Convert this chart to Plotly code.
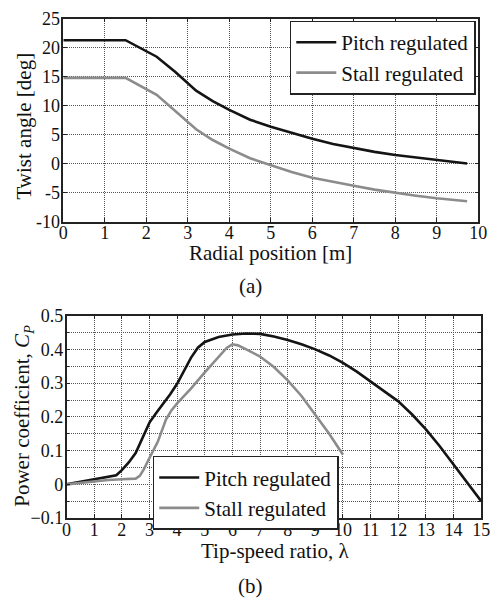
import plotly.graph_objects as go

# ---- data: (a) twist angle ----
radial_pos = [0, 0.5, 1.0, 1.5, 2.25, 2.7, 3.2, 3.6, 4.0, 4.5, 5.0, 5.5, 6.0, 6.5, 7.0, 7.5, 8.0, 8.5, 9.0, 9.73]
twist_pitch = [21.3, 21.3, 21.3, 21.3, 18.45, 15.8, 12.6, 10.8, 9.3, 7.6, 6.4, 5.3, 4.3, 3.4, 2.7, 2.05, 1.5, 1.05, 0.65, 0.05]
twist_stall = [14.8, 14.8, 14.8, 14.8, 11.9, 9.0, 5.95, 4.1, 2.6, 0.95, -0.2, -1.4, -2.4, -3.15, -3.8, -4.45, -5.0, -5.5, -5.95, -6.45]

# ---- data: (b) power coefficient ----
tsr_pitch = [0, 0.5, 1, 1.5, 1.8, 2.0, 2.25, 2.5, 2.75, 3.0, 3.25, 3.5, 3.75, 4.0, 4.25, 4.5, 4.75, 5.0,
             5.5, 6.0, 6.5, 7.0, 7.5, 8, 8.5, 9, 9.5, 10, 10.5, 11, 11.5, 12, 12.5, 13, 13.5, 14, 14.5, 15]
cp_pitch = [0, 0.008, 0.016, 0.022, 0.027, 0.042, 0.065, 0.093, 0.14, 0.183, 0.212, 0.238, 0.267, 0.298,
            0.335, 0.375, 0.405, 0.422, 0.437, 0.444, 0.447, 0.446, 0.438, 0.428, 0.415, 0.40, 0.382, 0.36,
            0.334, 0.305, 0.277, 0.246, 0.207, 0.163, 0.113, 0.059, 0.003, -0.05]
tsr_stall = [0, 0.5, 1, 1.5, 2, 2.5, 2.65, 2.8, 3.0, 3.3, 3.6, 3.8, 4.0, 4.5, 5.0, 5.5, 5.8, 6.0, 6.2, 6.5,
             7.0, 7.5, 8.0, 8.5, 9.0, 9.5, 10.0]
cp_stall = [0, 0.005, 0.01, 0.013, 0.015, 0.017, 0.025, 0.045, 0.078, 0.126, 0.193, 0.22, 0.24, 0.284, 0.332,
            0.379, 0.405, 0.415, 0.412, 0.4, 0.379, 0.348, 0.308, 0.262, 0.207, 0.15, 0.088]

# ---- tick labels ----
top_x_ticks = list(range(0, 11))
top_y_vals = [-10, -5, 0, 5, 10, 15, 20, 25]
top_y_text = ["-10", "-5", "0", "5", "10", "15", "20", "25"]
bot_x_ticks = list(range(0, 16))
bot_y_vals = [-0.1, 0, 0.1, 0.2, 0.3, 0.4, 0.5]
bot_y_text = ["\u22120.1", "0", "0.1", "0.2", "0.3", "0.4", "0.5"]

names = ["Pitch regulated", "Stall regulated"]
BLACK = "#141414"
GRAY = "#8c8c8c"
FONT = "Liberation Serif, Times New Roman, DejaVu Serif, serif"
W, H = 498, 611


def px(x):
    return x / W


def py(y):
    return 1 - y / H


fig = go.Figure()
fig.add_trace(go.Scatter(x=radial_pos, y=twist_pitch, mode="lines", name=names[0],
                         line=dict(color=BLACK, width=2.6), xaxis="x", yaxis="y", legend="legend"))
fig.add_trace(go.Scatter(x=radial_pos, y=twist_stall, mode="lines", name=names[1],
                         line=dict(color=GRAY, width=2.6), xaxis="x", yaxis="y", legend="legend"))
fig.add_trace(go.Scatter(x=tsr_pitch, y=cp_pitch, mode="lines", name=names[0],
                         line=dict(color=BLACK, width=2.6), xaxis="x2", yaxis="y2", legend="legend2"))
fig.add_trace(go.Scatter(x=tsr_stall, y=cp_stall, mode="lines", name=names[1],
                         line=dict(color=GRAY, width=2.6), xaxis="x2", yaxis="y2", legend="legend2"))

GRID = "#555555"
TXT = "#111111"
axis_common = dict(showline=True, linecolor="#222", linewidth=1.5, mirror="ticks",
                   ticks="inside", ticklen=4, tickcolor="#222",
                   showgrid=True, gridcolor=GRID, gridwidth=1, griddash="1px,1px",
                   zeroline=False, tickfont=dict(family=FONT, size=18, color=TXT))

fig.update_layout(
    width=W, height=H,
    margin=dict(l=0, r=0, t=0, b=0),
    paper_bgcolor="white", plot_bgcolor="white",
    font=dict(family=FONT, color=TXT),
    xaxis=dict(domain=[px(60), px(487)], anchor="y", range=[0, 10], tickmode="array",
               tickvals=top_x_ticks, ticklabelstandoff=-6, **axis_common),
    yaxis=dict(domain=[py(219), py(9)], anchor="x", range=[-10, 25], tickmode="array",
               tickvals=top_y_vals, ticktext=top_y_text, ticklabelstandoff=-2, **axis_common),
    xaxis2=dict(domain=[px(63.3), px(490)], anchor="y2", range=[0, 15], tickmode="array",
                tickvals=bot_x_ticks, ticklabelstandoff=-5, **axis_common),
    yaxis2=dict(domain=[py(525.3), py(316)], anchor="x2", range=[-0.1, 0.5], tickmode="array",
                tickvals=bot_y_vals, ticktext=bot_y_text, ticklabelstandoff=-2,
                minor=dict(tickmode="array", tickvals=[-0.05, 0.05, 0.15, 0.25, 0.35, 0.45],
                           showgrid=True, gridcolor=GRID, griddash="1px,1px", gridwidth=1,
                           ticks="inside", ticklen=3, tickcolor="#222"),
                **axis_common),
    legend=dict(x=px(293), y=py(11), xanchor="left", yanchor="top", itemwidth=40,
                bgcolor="white", bordercolor="#222", borderwidth=1.5,
                font=dict(family=FONT, size=21, color=TXT), tracegroupgap=0),
    legend2=dict(x=px(152), y=py(461), xanchor="left", yanchor="top", itemwidth=40,
                 bgcolor="white", bordercolor="#222", borderwidth=1.5,
                 font=dict(family=FONT, size=21, color=TXT), tracegroupgap=0),
    showlegend=True,
)

ann_font = dict(family=FONT, size=21, color=TXT)
annotations = [
    dict(text="Radial position [m]", x=px(273), y=py(251)),
    dict(text="(a)", x=px(253), y=py(285)),
    dict(text="Tip-speed ratio, \u03bb", x=px(278), y=py(559)),
    dict(text="(b)", x=px(253), y=py(595)),
    dict(text="Twist angle [deg]", x=px(20), y=py(120), textangle=-90),
    dict(text="Power coefficient, <i>C</i><sub><i>P</i></sub>", x=px(19), y=py(419), textangle=-90),
]
for a in annotations:
    fig.add_annotation(xref="paper", yref="paper", xanchor="center", yanchor="middle",
                       showarrow=False, font=ann_font, **a)

fig.write_html("out.html")
